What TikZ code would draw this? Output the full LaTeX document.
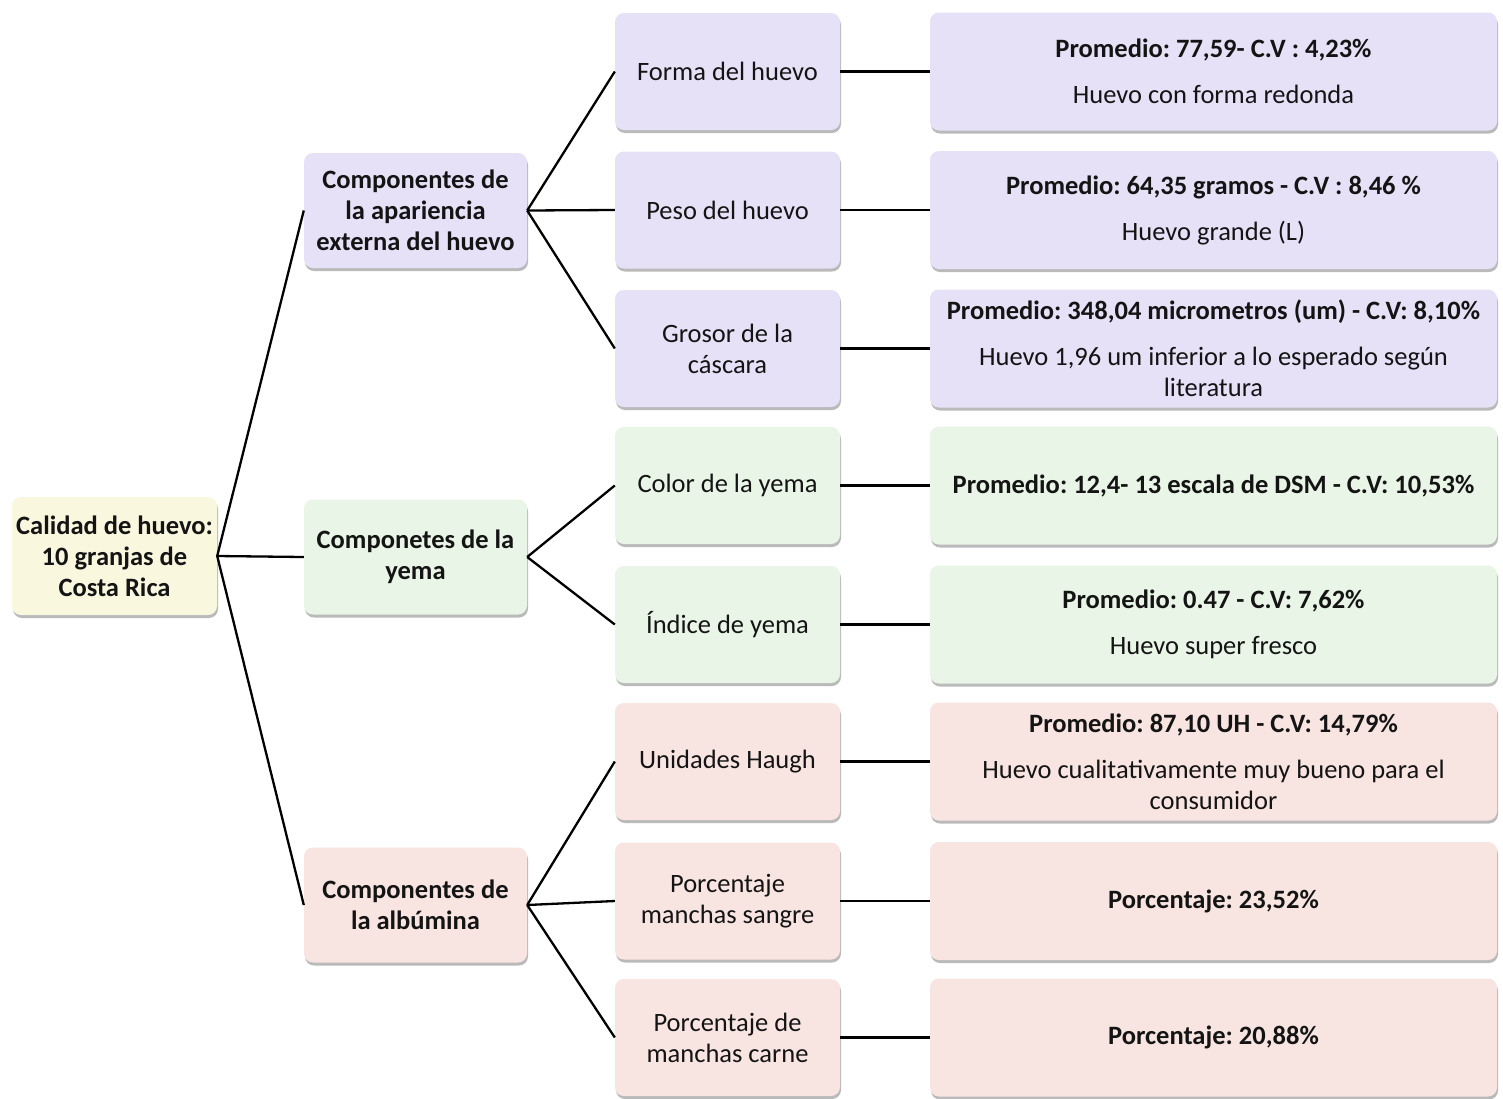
\documentclass[tikz,border=0pt]{standalone}
\usepackage{fontspec}
\setmainfont{Carlito}
\usetikzlibrary{shadows}
\definecolor{lav}{HTML}{E7E1F7}
\definecolor{grn}{HTML}{E9F5E6}
\definecolor{pnk}{HTML}{F8E5E1}
\definecolor{crm}{HTML}{FAF7DF}
\definecolor{txt}{HTML}{141414}
\frenchspacing
\begin{document}
\begin{tikzpicture}[x=1pt,y=-1pt,
  box/.style={rounded corners=9pt, draw=none, align=center, inner sep=1pt,
    text=txt, font=\fontsize{26.5}{31}\selectfont,
    drop shadow={shadow xshift=1pt, shadow yshift=-3pt, opacity=0.45, fill=black!60}},
  rootbox/.style={box, fill=crm, minimum width=205pt, minimum height=118pt, font=\fontsize{26.5}{31}\selectfont\bfseries},
  lone/.style={box, minimum width=223pt, minimum height=115pt, font=\fontsize{26.5}{31}\selectfont\bfseries},
  ltwo/.style={box, minimum width=225pt, minimum height=117pt},
  lthree/.style={box, minimum width=567pt, minimum height=118pt},
  conn/.style={draw=black, line width=2.3pt}
]
\useasboundingbox (0,0) rectangle (1503,1098);
\fill[white] (0,0) rectangle (1503,1098);

\node[rootbox] (root) at (114.5,556) {Calidad de huevo:\\10 granjas de\\Costa Rica};

\node[lone, fill=lav] (ext) at (415.5,210.5) {Componentes de\\la apariencia\\externa del huevo};
\node[lone, fill=grn] (yem) at (415.5,557) {Componetes de la\\yema};
\node[lone, fill=pnk] (alb) at (415.5,905) {Componentes de\\la albúmina};

\node[ltwo, fill=lav] (forma) at (727.5,71.5) {Forma del huevo};
\node[ltwo, fill=lav] (peso) at (727.5,210) {Peso del huevo};
\node[ltwo, fill=lav] (grosor) at (727.5,348.5) {Grosor de la\\cáscara};
\node[ltwo, fill=grn] (color) at (727.5,485.5) {Color de la yema};
\node[ltwo, fill=grn] (indice) at (727.5,624.5) {Índice de yema};
\node[ltwo, fill=pnk] (haugh) at (727.5,761.5) {Unidades Haugh};
\node[ltwo, fill=pnk] (sangre) at (727.5,901) {Porcentaje\\manchas sangre};
\node[ltwo, fill=pnk] (carne) at (727.5,1037.5) {Porcentaje de\\manchas carne};

\node[lthree, fill=lav] (rforma) at (1213.5,71.5) {{\bfseries Promedio: 77,59- C.V : 4,23\%}\\[15pt]Huevo con forma redonda};
\node[lthree, fill=lav] (rpeso) at (1213.5,210) {{\bfseries Promedio: 64,35 gramos - C.V : 8,46 \%}\\[15pt]Huevo grande (L)};
\node[lthree, fill=lav] (rgrosor) at (1213.5,348.5) {{\bfseries Promedio: 348,04 micrometros (um) - C.V: 8,10\%}\\[15pt]Huevo 1,96 um inferior a lo esperado según\\literatura};
\node[lthree, fill=grn] (rcolor) at (1213.5,485.5) {\bfseries Promedio: 12,4- 13 escala de DSM - C.V: 10,53\%};
\node[lthree, fill=grn] (rindice) at (1213.5,624.5) {{\bfseries Promedio: 0.47 - C.V: 7,62\%}\\[15pt]Huevo super fresco};
\node[lthree, fill=pnk] (rhaugh) at (1213.5,761.5) {{\bfseries Promedio: 87,10 UH - C.V: 14,79\%}\\[15pt]Huevo cualitativamente muy bueno para el\\consumidor};
\node[lthree, fill=pnk] (rsangre) at (1213.5,901) {\bfseries Porcentaje: 23,52\%};
\node[lthree, fill=pnk] (rcarne) at (1213.5,1037.5) {\bfseries Porcentaje: 20,88\%};

\draw[conn] (root.east) -- (ext.west);
\draw[conn] (root.east) -- (yem.west);
\draw[conn] (root.east) -- (alb.west);
\draw[conn] (ext.east) -- (forma.west);
\draw[conn] (ext.east) -- (peso.west);
\draw[conn] (ext.east) -- (grosor.west);
\draw[conn] (yem.east) -- (color.west);
\draw[conn] (yem.east) -- (indice.west);
\draw[conn] (alb.east) -- (haugh.west);
\draw[conn] (alb.east) -- (sangre.west);
\draw[conn] (alb.east) -- (carne.west);
\draw[conn] (forma.east) -- (rforma.west);
\draw[conn] (peso.east) -- (rpeso.west);
\draw[conn] (grosor.east) -- (rgrosor.west);
\draw[conn] (color.east) -- (rcolor.west);
\draw[conn] (indice.east) -- (rindice.west);
\draw[conn] (haugh.east) -- (rhaugh.west);
\draw[conn] (sangre.east) -- (rsangre.west);
\draw[conn] (carne.east) -- (rcarne.west);
\end{tikzpicture}
\end{document}
